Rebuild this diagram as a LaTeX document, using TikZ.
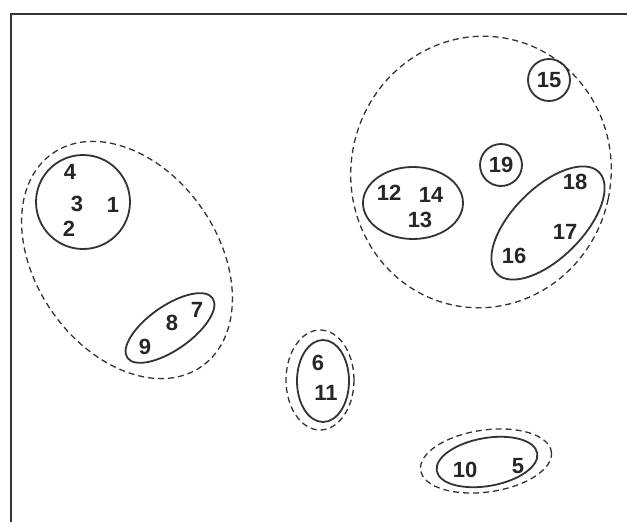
\documentclass[tikz,border=0pt]{standalone}
\usepackage{fontspec}
\setmainfont{Liberation Sans}
\begin{document}
\begin{tikzpicture}[x=1pt,y=-1pt,
  lbl/.style={font=\fontsize{22}{26}\selectfont\bfseries, text=black!85, inner sep=0pt},
  solidring/.style={draw=black!80, line width=1.8pt},
  dashring/.style={draw=black!80, line width=1.3pt, dash pattern=on 6pt off 4pt},
  ringnode/.style={lbl, circle, draw=black!80, line width=1.8pt, minimum size=42pt}]
\useasboundingbox (0,0) rectangle (627,522);
\fill[white] (0,0) rectangle (627,522);
% frame (top and left only)
\coordinate (ftl) at (11,14);
\coordinate (ftr) at (627,14);
\coordinate (fbl) at (11,522);
\draw[black!80, line width=1.8pt] (fbl) -- (ftl) -- (ftr);

% left group
\draw[dashring, rotate around={-55:(127,260)}] (127,260) ellipse [x radius=130, y radius=91];
\draw[solidring] (83,202) ellipse [x radius=47, y radius=47];
\node[lbl] (n4) at (70,172) {4};
\node[lbl] (n3) at (77,204) {3};
\node[lbl] (n1) at (113,205) {1};
\node[lbl] (n2) at (69,229) {2};
\draw[solidring, rotate around={35:(170,328)}] (170,328) ellipse [x radius=52, y radius=22];
\node[lbl] (n9) at (145,347) {9};
\node[lbl] (n8) at (172,323) {8};
\node[lbl] (n7) at (197,310) {7};

% right group
\draw[dashring, rotate around={-12:(481,172)}] (481,172) ellipse [x radius=130, y radius=136];
\node[ringnode] (n15) at (549,80) {15};
\node[ringnode] (n19) at (501,165) {19};
\draw[solidring] (413,203) ellipse [x radius=50, y radius=36];
\node[lbl] (n12) at (389,193) {12};
\node[lbl] (n14) at (431,195) {14};
\node[lbl] (n13) at (420,220) {13};
\draw[solidring, rotate around={45:(548,223)}] (548,223) ellipse [x radius=72, y radius=35];
\node[lbl] (n18) at (575,182) {18};
\node[lbl] (n17) at (565,232) {17};
\node[lbl] (n16) at (514,256) {16};

% middle group
\draw[dashring] (320,380) ellipse [x radius=34, y radius=50];
\draw[solidring] (323,381) ellipse [x radius=26, y radius=41];
\node[lbl] (n6) at (318,363) {6};
\node[lbl] (n11) at (326,393) {11};

% bottom group
\draw[dashring, rotate around={8:(486,461)}] (486,461) ellipse [x radius=66, y radius=31];
\draw[solidring, rotate around={10:(487,462)}] (487,462) ellipse [x radius=51, y radius=24];
\node[lbl] (n10) at (465,470) {10};
\node[lbl] (n5) at (518,466) {5};
\end{tikzpicture}
\end{document}
